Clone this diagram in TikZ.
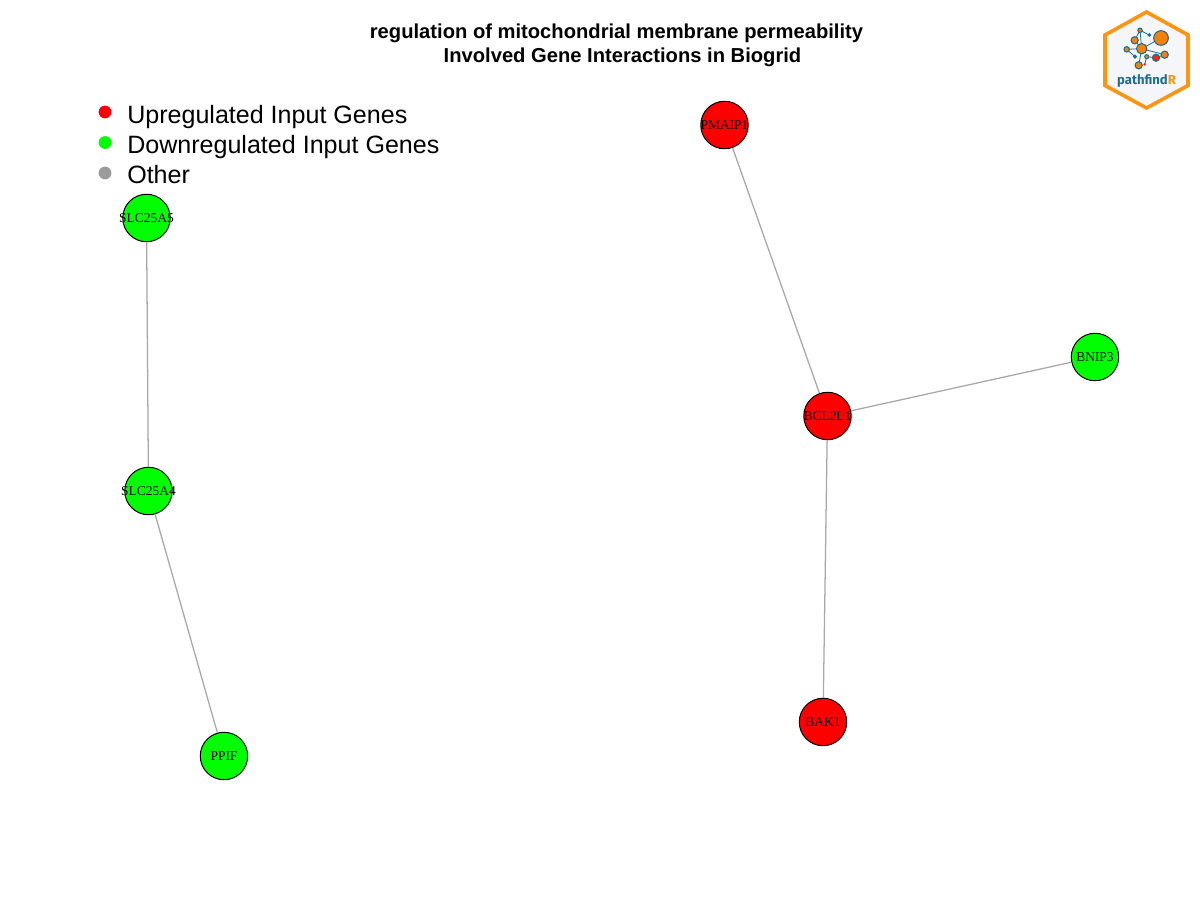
\documentclass[tikz,border=0pt]{standalone}
\usepackage{fontspec}
\setmainfont{Liberation Sans}
\newfontfamily\genefont{Liberation Serif}
\newfontfamily\logofont{Fira Sans}
\definecolor{upred}{RGB}{255,0,0}
\definecolor{downgreen}{RGB}{0,255,0}
\definecolor{othergray}{RGB}{155,155,155}
\definecolor{edgegray}{RGB}{168,168,168}
\definecolor{logoorange}{RGB}{255,148,15}
\definecolor{logofill}{RGB}{244,246,249}
\definecolor{logoblue}{RGB}{30,110,145}
\definecolor{logonode}{RGB}{245,130,5}
\newcommand{\gl}[1]{\makebox[0pt][c]{#1}}
\tikzset{
  gene/.style={circle,draw=black,line width=0.75pt,minimum size=35.6pt,inner sep=0pt,
    font=\genefont\fontsize{10.1}{12}\selectfont,text=black},
  upgene/.style={gene,fill=upred},
  downgene/.style={gene,fill=downgreen},
  interaction/.style={draw=edgegray,line width=0.95pt},
  legenddot/.style={circle,minimum size=9.6pt,inner sep=0pt},
  legendtext/.style={anchor=base west,inner sep=0pt,font=\fontsize{18.8}{22}\selectfont},
  titletext/.style={anchor=base,inner sep=0pt,font=\bfseries\fontsize{15.13}{18}\selectfont},
  lognode/.style={circle,draw=logoblue,line width=0.8pt,fill=logonode,inner sep=0pt},
  loglink/.style={draw=logoblue,line width=0.6pt},
}
\begin{document}
\begin{tikzpicture}[x=0.75pt,y=-0.75pt]
\useasboundingbox (0,0) rectangle (1200,900);
\fill[white] (0,0) rectangle (1200,900);
% title
\node[titletext] (t1) at (616.5,38.2) {regulation of mitochondrial membrane permeability};
\node[titletext] (t2) at (622.5,62.2) {Involved Gene Interactions in Biogrid};
% legend
\node[legenddot,fill=upred] (l1) at (105,112) {};
\node[legenddot,fill=downgreen] (l2) at (105,142.5) {};
\node[legenddot,fill=othergray] (l3) at (105,173) {};
\node[legendtext] (lt1) at (127,123.2) {Upregulated Input Genes};
\node[legendtext] (lt2) at (127,153.2) {Downregulated Input Genes};
\node[legendtext] (lt3) at (127,183.2) {Other};
% genes
\node[upgene] (PMAIP1) at (724.5,125) {\gl{PMAIP1}};
\node[upgene] (BCL2L1) at (827.5,416) {\gl{BCL2L1}};
\node[upgene] (BAK1) at (823,722) {\gl{BAK1}};
\node[downgene] (BNIP3) at (1095,357) {\gl{BNIP3}};
\node[downgene] (SLC25A5) at (146.5,218) {\gl{SLC25A5}};
\node[downgene] (SLC25A4) at (148.5,491) {\gl{SLC25A4}};
\node[downgene] (PPIF) at (224,756) {\gl{PPIF}};
% interactions
\draw[interaction] (PMAIP1) -- (BCL2L1);
\draw[interaction] (BCL2L1) -- (BNIP3);
\draw[interaction] (BCL2L1) -- (BAK1);
\draw[interaction] (SLC25A5) -- (SLC25A4);
\draw[interaction] (SLC25A4) -- (PPIF);
% logo
\draw[draw=logoorange,fill=logofill,line width=2.7pt,line join=miter]
  (1146.5,12) -- (1188,35) -- (1188,85.5) -- (1146.5,108) -- (1105,85.5) -- (1105,35) -- cycle;
\coordinate (a0) at (1141.7,48.7);
\coordinate (a1) at (1161,38);
\coordinate (a2) at (1134.7,40.3);
\coordinate (a3) at (1140,30.3);
\coordinate (a4) at (1149.3,35);
\coordinate (a5) at (1126.7,49.3);
\coordinate (a6) at (1135,56.7);
\coordinate (a7) at (1138.7,65.3);
\coordinate (a8) at (1146.7,56.7);
\coordinate (a9) at (1156,57.7);
\coordinate (a10) at (1164.7,54.7);
\coordinate (a11) at (1144.7,64.3);
\draw[loglink] (a0)--(a1) (a0)--(a2) (a2)--(a3) (a3)--(a4) (a0)--(a3) (a0)--(a5)
  (a5)--(a6) (a0)--(a7) (a8)--(a9) (a9)--(a10) (a8)--(a11) (a0)--(a10);
\foreach \c/\r in {a0/5.2,a1/7.3,a2/3.6,a3/2.2,a5/2.7,a7/3.6,a10/3.6,a8/2}
  \node[lognode,minimum size=2*\r*0.75pt] (n\c) at (\c) {};
\foreach \c/\r in {a4/1.2,a6/1.5}
  \node[lognode,fill=logoblue,minimum size=2*\r*0.75pt] (n\c) at (\c) {};
\node[lognode,fill=red!70!orange,minimum size=5.4pt] (na9) at (a9) {};
\node[lognode,fill=red!70!orange,draw=none,minimum size=2.2pt] (na11) at (a11) {};
\node[anchor=base,inner sep=0pt,font=\logofont\bfseries\fontsize{9.8}{11}\selectfont] (logotext) at (1146.5,84)
  {\textcolor{logoblue}{pathfind}\textcolor{logoorange}{R}};
\end{tikzpicture}
\end{document}
